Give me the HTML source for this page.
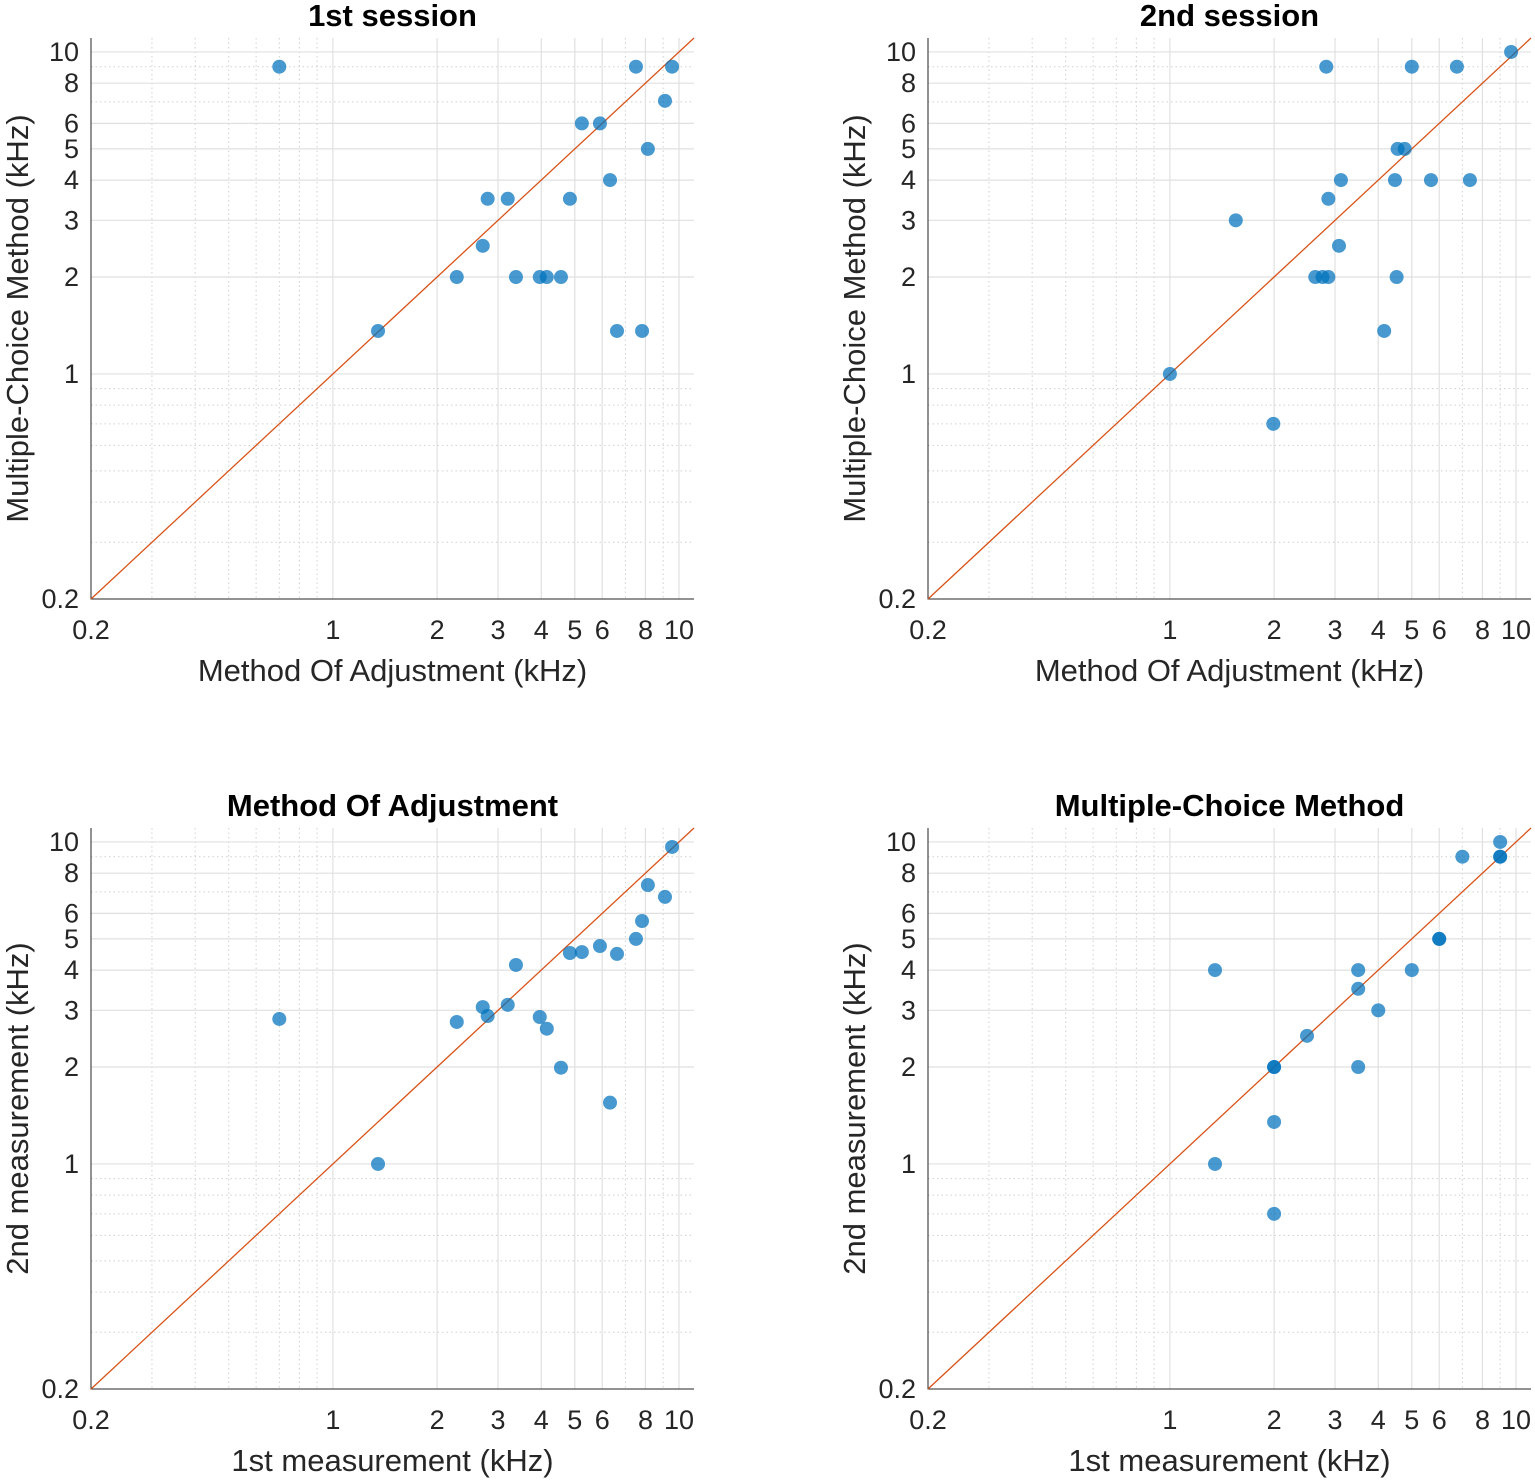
<!DOCTYPE html>
<html><head><meta charset="utf-8"><style>
html,body{margin:0;padding:0;background:#fff;}
svg{display:block;font-family:"Liberation Sans",Arial,sans-serif;}
</style></head><body>
<svg id="fig" width="1535" height="1481" viewBox="0 0 1535 1481" xmlns="http://www.w3.org/2000/svg"></svg>
<script>
// Panel data (kHz)
const p1x=[0.70,1.35,2.28,2.71,2.80,3.20,3.38,3.96,4.15,4.56,4.84,5.24,5.91,6.32,6.62,7.51,7.82,8.13,9.11,9.55];
const p1y=[9,1.36,2,2.5,3.5,3.5,2,2,2,2,3.5,6,6,4,1.36,9,1.36,5,7.05,9];
const p2x=[1,1.55,1.99,2.63,2.76,2.87,2.83,2.87,3.08,3.12,4.16,4.47,4.52,4.55,4.77,5.0,5.68,6.75,7.36,9.68];
const p2y=[1,3,0.70,2,2,2,9,3.5,2.5,4,1.36,4,2,5,5,9,4,9,4,10];
const p3x=[0.70,1.35,2.28,2.71,2.80,3.20,3.38,3.96,4.15,4.56,4.84,5.24,5.91,6.32,6.62,7.51,7.82,8.13,9.11,9.55];
const p3y=[2.82,1,2.76,3.07,2.88,3.12,4.15,2.86,2.63,1.99,4.52,4.55,4.75,1.55,4.49,5.0,5.68,7.35,6.75,9.65];
const p4x=[1.35,1.35,2,2,2,2,2.49,3.5,3.5,3.5,4,5,6,6,7,9,9,9];
const p4y=[4,1,2,2,1.35,0.70,2.5,4,3.5,2,3,4,5,5,9,9,9,10];
const tickVals=[0.2,1,2,3,4,5,6,8,10];
const tickLabels=["0.2","1","2","3","4","5","6","8","10"];
const minorVals=[0.3,0.4,0.5,0.6,0.7,0.8,0.9,7,9];

const NS="http://www.w3.org/2000/svg";
const svg=document.getElementById('fig');
function mk(tag,attrs,parent){const e=document.createElementNS(NS,tag);for(const k in attrs)e.setAttribute(k,attrs[k]);(parent||svg).appendChild(e);return e;}
const LMIN=Math.log10(0.2),LMAX=Math.log10(11.05);
const panels=[
 {x0:91,y0:38,title:"1st session",xl:"Method Of Adjustment (kHz)",yl:"Multiple-Choice Method (kHz)",xs:p1x,ys:p1y,id:"session1"},
 {x0:928,y0:38,title:"2nd session",xl:"Method Of Adjustment (kHz)",yl:"Multiple-Choice Method (kHz)",xs:p2x,ys:p2y,id:"session2"},
 {x0:91,y0:828,title:"Method Of Adjustment",xl:"1st measurement (kHz)",yl:"2nd measurement (kHz)",xs:p3x,ys:p3y,id:"moa"},
 {x0:928,y0:828,title:"Multiple-Choice Method",xl:"1st measurement (kHz)",yl:"2nd measurement (kHz)",xs:p4x,ys:p4y,id:"mcm"}
];
const W=603,H=561;
panels.forEach(p=>{
 const g=mk('g',{});
 
 
 const sx=v=>p.x0+(Math.log10(v)-LMIN)/(LMAX-LMIN)*W;
 const sy=v=>p.y0+H-(Math.log10(v)-LMIN)/(LMAX-LMIN)*H;
 minorVals.forEach(v=>{
  const a=mk('line',{x1:sx(v),x2:sx(v),y1:p.y0,y2:p.y0+H,stroke:'#d0d0d0','stroke-width':1,'stroke-dasharray':'1.5,3'},g);
  
  const b=mk('line',{y1:sy(v),y2:sy(v),x1:p.x0,x2:p.x0+W,stroke:'#d0d0d0','stroke-width':1,'stroke-dasharray':'1.5,3'},g);
  
 });
 tickVals.forEach((v,i)=>{
  if(i>0){
   const a=mk('line',{x1:sx(v),x2:sx(v),y1:p.y0,y2:p.y0+H,stroke:'#e0e0e0','stroke-width':1.2},g);
   
   const b=mk('line',{y1:sy(v),y2:sy(v),x1:p.x0,x2:p.x0+W,stroke:'#e0e0e0','stroke-width':1.2},g);
   
  }
  const tx=mk('text',{x:sx(v),y:p.y0+H+40,'font-size':27,'text-anchor':'middle',fill:'#262626'},g);
  tx.textContent=tickLabels[i];
  
  const ty=mk('text',{x:p.x0-12,y:sy(v)+9,'font-size':27,'text-anchor':'end',fill:'#262626'},g);
  ty.textContent=tickLabels[i];
  
 });
 const ax=mk('path',{d:`M${p.x0},${p.y0} V${p.y0+H} H${p.x0+W}`,fill:'none',stroke:'#262626','stroke-width':1},g);
 
 const dl=mk('line',{x1:sx(0.2),y1:sy(0.2),x2:sx(11.05),y2:sy(11.05),stroke:'#D95319','stroke-width':1.3},g);
 
 p.xs.forEach((v,i)=>{
  const c=mk('circle',{cx:sx(v),cy:sy(p.ys[i]),r:7,fill:'#0072BD','fill-opacity':0.72},g);
  
 });
 const t=mk('text',{x:p.x0+W/2,y:p.y0-12,'font-size':31,'font-weight':'bold','text-anchor':'middle',fill:'#000'},g);
 t.textContent=p.title;
 const xl=mk('text',{x:p.x0+W/2,y:p.y0+H+82,'font-size':31,'text-anchor':'middle',fill:'#262626'},g);
 xl.textContent=p.xl;
 const cy=p.y0+H/2;
 const yl=mk('text',{x:p.x0-63,y:cy,'font-size':31,'text-anchor':'middle',fill:'#262626',transform:`rotate(-90 ${p.x0-63} ${cy})`},g);
 yl.textContent=p.yl;
});
</script>
</body></html>
